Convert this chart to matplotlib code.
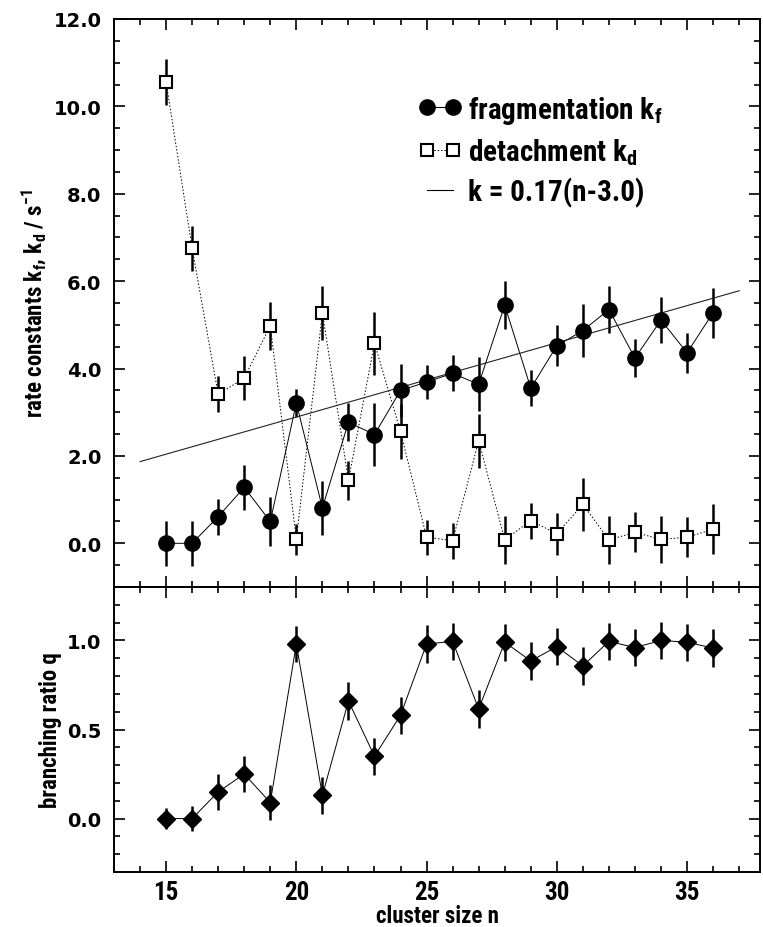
import matplotlib
matplotlib.use("Agg")
import matplotlib.pyplot as plt
from matplotlib import font_manager
from matplotlib.lines import Line2D
from matplotlib.ticker import MultipleLocator, FormatStrFormatter
import numpy as np

# ---- pick a condensed bold sans if one is installed ----
NARROW, STRETCH = "Liberation Sans", "normal"
_pref = ["Liberation Sans Narrow", "Roboto Condensed", "Noto Sans", "Open Sans",
         "DejaVu Sans", "Roboto", "Liberation Sans"]
_cands = []
for f in font_manager.fontManager.ttflist:
    w = f.weight if isinstance(f.weight, int) else font_manager.weight_dict.get(f.weight, 400)
    st = f.stretch
    st_val = st if isinstance(st, int) else font_manager.stretch_dict.get(st, 500)
    if w >= 600 and st_val <= 400 and f.style == 'normal':
        rank = _pref.index(f.name) if f.name in _pref else len(_pref)
        _cands.append((rank, abs(st_val - 300), f.name, st))
if _cands:
    _cands.sort()
    NARROW, STRETCH = _cands[0][2], _cands[0][3]
WIDE = "DejaVu Sans"

_pat = f"{NARROW}:bold:stretch={STRETCH}"
plt.rcParams['mathtext.fontset'] = 'custom'
plt.rcParams['mathtext.rm'] = _pat
plt.rcParams['mathtext.bf'] = _pat
plt.rcParams['mathtext.it'] = _pat
plt.rcParams['mathtext.default'] = 'bf'
NF = dict(fontfamily=NARROW, fontstretch=STRETCH, fontweight='bold')

# ---------------- data ----------------
n = [15, 16, 17, 18, 19, 20, 21, 22, 23, 24, 25, 26, 27, 28, 29, 30, 31, 32, 33, 34, 35, 36]
kf = [0.00, 0.00, 0.61, 1.28, 0.50, 3.21, 0.81, 2.77, 2.49, 3.50, 3.69, 3.89, 3.64, 5.45,
      3.55, 4.52, 4.87, 5.35, 4.24, 5.11, 4.36, 5.28]
kf_err = [0.51, 0.51, 0.41, 0.51, 0.56, 0.33, 0.62, 0.43, 0.71, 0.61, 0.39, 0.41, 0.62, 0.55,
          0.41, 0.47, 0.60, 0.53, 0.44, 0.53, 0.46, 0.57]
kd = [10.56, 6.75, 3.41, 3.78, 4.98, 0.09, 5.28, 1.44, 4.58, 2.56, 0.14, 0.06, 2.35, 0.08,
      0.52, 0.22, 0.89, 0.08, 0.25, 0.09, 0.14, 0.32]
kd_err = [0.52, 0.51, 0.41, 0.51, 0.55, 0.35, 0.62, 0.44, 0.72, 0.63, 0.40, 0.41, 0.62, 0.55,
          0.41, 0.48, 0.60, 0.55, 0.46, 0.53, 0.46, 0.57]
q = [0.00, 0.00, 0.15, 0.25, 0.09, 0.98, 0.13, 0.66, 0.35, 0.58, 0.98, 0.995, 0.615, 0.99,
     0.885, 0.965, 0.857, 0.995, 0.96, 1.00, 0.99, 0.957]
q_err = [0.06, 0.07, 0.10, 0.10, 0.10, 0.10, 0.105, 0.105, 0.105, 0.105, 0.105, 0.105, 0.105,
         0.105, 0.105, 0.105, 0.105, 0.105, 0.105, 0.105, 0.105, 0.105]
fit_slope = 0.17
fit_offset = 3.0
fit_n = [14, 37]

# ---------------- figure ----------------
W, H = 763, 928
fig = plt.figure(figsize=(W / 100, H / 100), dpi=100)
left, right = 114 / W, 760 / W
top, mid, bot = 1 - 20 / H, 1 - 588 / H, 1 - 873 / H
ax1 = fig.add_axes([left, mid, right - left, top - mid])
ax2 = fig.add_axes([left, bot, right - left, mid - bot], sharex=ax1)

# upper panel
ax1.errorbar(n, kd, yerr=kd_err, fmt='none', ecolor='black', elinewidth=1.8, capsize=0, zorder=2)
ax1.errorbar(n, kf, yerr=kf_err, fmt='none', ecolor='black', elinewidth=1.8, capsize=0, zorder=2)
ax1.plot(n, kd, color='black', lw=0.7, ls=(0, (1.5, 2)), zorder=3)
ax1.plot(n, kf, color='black', lw=0.7, ls='-', zorder=3)
ax1.plot(n, kd, ls='none', marker='s', ms=9, mfc='white', mec='black', mew=1.5, zorder=4)
ax1.plot(n, kf, ls='none', marker='o', ms=11, mfc='black', mec='black', zorder=4)
fx = np.array(fit_n, dtype=float)
ax1.plot(fx, fit_slope * (fx - fit_offset), color='#222222', lw=0.8, zorder=3)

# lower panel
ax2.errorbar(n, q, yerr=q_err, fmt='none', ecolor='black', elinewidth=1.8, capsize=0, zorder=2)
ax2.plot(n, q, color='black', lw=0.7, zorder=3)
ax2.plot(n, q, ls='none', marker='D', ms=9, mfc='black', mec='black', zorder=4)

# axes formatting
ax1.set_xlim(13, 37.8)
ax1.set_ylim(-1.0, 12.0)
ax2.set_ylim(-0.3, 1.3)

for ax in (ax1, ax2):
    ax.xaxis.set_major_locator(MultipleLocator(5))
    ax.xaxis.set_minor_locator(MultipleLocator(1))
    ax.tick_params(which='both', direction='in', top=True, right=True, width=1.2)
    ax.tick_params(which='major', length=8)
    ax.tick_params(which='minor', length=4)
    for s in ax.spines.values():
        s.set_linewidth(1.4)

ax1.yaxis.set_major_locator(MultipleLocator(2.0))
ax1.yaxis.set_minor_locator(MultipleLocator(0.5))
ax1.yaxis.set_major_formatter(FormatStrFormatter('%.1f'))
ax2.yaxis.set_major_locator(MultipleLocator(0.5))
ax2.yaxis.set_minor_locator(MultipleLocator(0.1))
ax2.yaxis.set_major_formatter(FormatStrFormatter('%.1f'))

ax1.tick_params(axis='x', labelbottom=False)
for ax in (ax1, ax2):
    for lab in ax.get_yticklabels():
        lab.set_fontfamily(WIDE)
        lab.set_fontweight('bold')
        lab.set_fontsize(14)
    ax.tick_params(axis='y', pad=9)
for lab in ax2.get_xticklabels():
    lab.set_fontfamily(NARROW)
    lab.set_fontstretch(STRETCH)
    lab.set_fontweight('bold')
    lab.set_fontsize(18)
ax2.tick_params(axis='x', pad=6)

ax1.set_ylabel(r'rate constants k$_f$, k$_d$ / s$^{-1}$', fontsize=16.5, labelpad=4, **NF)
ax2.set_ylabel('branching ratio q', fontsize=16.5, labelpad=4, **NF)
ax2.set_xlabel('cluster size n', fontsize=16.5, labelpad=0, **NF)
fig.align_ylabels([ax1, ax2])

# legend
h1 = Line2D([], [], color='black', lw=0.8, marker='o', ms=11, mfc='black', mec='black')
h2 = Line2D([], [], color='black', lw=0.7, ls=(0, (1.5, 2)), marker='s', ms=9,
            mfc='white', mec='black', mew=1.5)
h3 = Line2D([], [], color='black', lw=0.8)
leg = ax1.legend([h1, h2, h3],
                 [r'fragmentation k$_f$', r'detachment k$_d$', 'k = 0.17(n-3.0)'],
                 loc='center left', bbox_to_anchor=(0.43, 0.769), frameon=False,
                 numpoints=2, handlelength=1.5, handletextpad=0.2, labelspacing=0.35,
                 prop={'family': NARROW, 'stretch': STRETCH, 'weight': 'bold', 'size': 21})

fig.savefig('out.png', dpi=100)
